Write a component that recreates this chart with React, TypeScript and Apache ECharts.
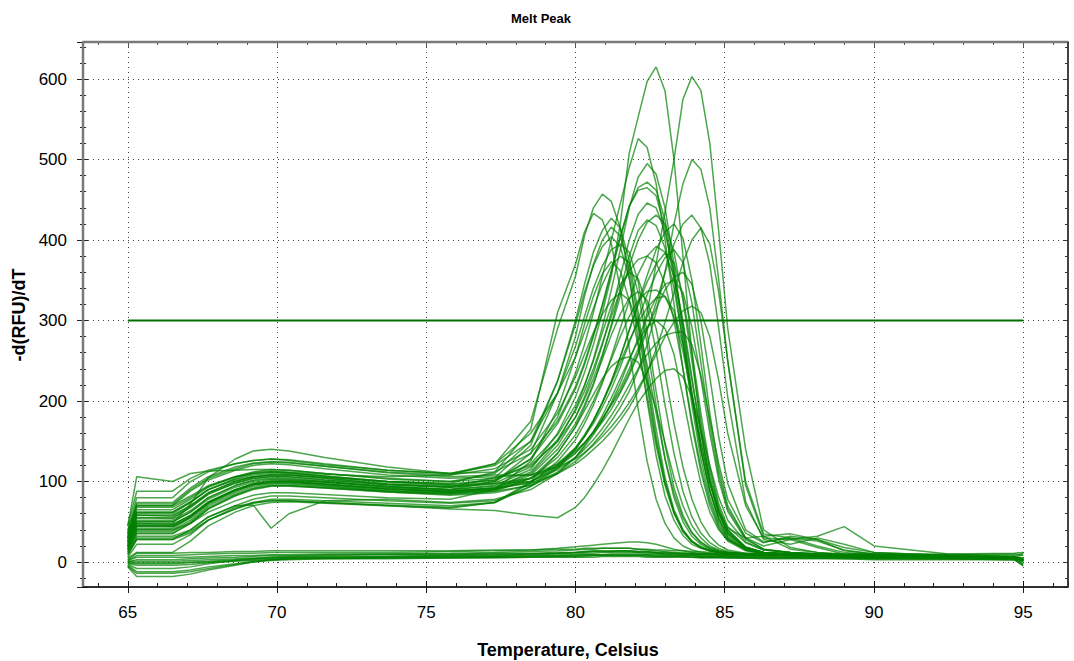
import React, { useEffect, useRef } from "react";
import * as echarts from "echarts";

// Temperature grid (°C) shared by every melt curve
const TEMPS = [65, 65.3, 66.5, 67.1, 67.7, 68.6, 69.2, 69.8, 70.4, 71.6, 73.7, 75.8, 77.3, 78.5, 79.4, 80, 80.3, 80.6, 80.9, 81.2, 81.5, 81.8, 82.1, 82.4, 82.7, 83, 83.3, 83.6, 83.9, 84.2, 84.5, 84.8, 85.1, 85.7, 86.3, 87.2, 88.1, 89, 90, 92.5, 94.7, 95];

// Melt peak curves, -d(RFU)/dT at each temperature of TEMPS
const E1 = [30, 62, 62, 75, 90, 102, 106, 108, 108, 105, 100, 98, 112, 165, 310, 370, 410, 433, 425, 395, 340, 265, 190, 125, 78, 48, 30, 20, 15, 12, 11, 10, 9, 9, 8, 8, 8, 7, 7, 6, 5, 2];
const E2 = [40, 80, 80, 100, 112, 122, 126, 128, 127, 122, 114, 110, 122, 175, 290, 355, 405, 440, 457, 448, 415, 355, 275, 200, 132, 82, 52, 33, 22, 17, 14, 12, 11, 10, 9, 9, 8, 8, 7, 6, 5, 3];
const E3 = [25, 55, 54, 68, 85, 98, 104, 106, 106, 102, 96, 93, 105, 145, 225, 300, 345, 385, 412, 427, 415, 375, 310, 235, 165, 105, 65, 40, 26, 18, 14, 12, 11, 10, 9, 8, 8, 7, 7, 6, 5, 2];
const E4 = [20, 45, 44, 55, 72, 88, 96, 100, 101, 99, 94, 90, 100, 135, 210, 280, 330, 370, 400, 416, 405, 365, 300, 225, 155, 100, 62, 38, 25, 18, 14, 12, 11, 10, 9, 9, 9, 8, 8, 7, 6, 4];
const E5 = [15, 40, 40, 48, 62, 76, 83, 86, 86, 84, 80, 78, 90, 125, 190, 255, 295, 330, 358, 373, 362, 325, 268, 205, 145, 95, 60, 38, 25, 18, 14, 12, 11, 10, 9, 9, 8, 8, 7, 6, 5, 2];
const E6 = [35, 70, 70, 82, 95, 106, 111, 113, 112, 109, 106, 108, 122, 160, 210, 255, 285, 315, 345, 368, 380, 372, 335, 270, 195, 128, 80, 50, 32, 22, 16, 13, 11, 10, 9, 9, 8, 8, 7, 7, 5, 3];
const T1 = [45, 106, 100, 110, 113, 114, 115, 115, 114, 110, 104, 100, 110, 150, 225, 295, 335, 368, 392, 404, 392, 352, 290, 218, 150, 98, 62, 40, 26, 19, 15, 12, 11, 10, 9, 9, 8, 8, 7, 6, 5, 3];
const M1 = [30, 58, 57, 70, 86, 100, 106, 108, 108, 104, 97, 94, 100, 128, 180, 235, 270, 310, 355, 400, 445, 490, 526, 515, 470, 400, 320, 240, 170, 112, 70, 42, 26, 14, 10, 9, 8, 8, 7, 6, 5, 2];
const M2 = [25, 50, 50, 62, 80, 95, 102, 104, 104, 100, 93, 90, 95, 115, 160, 205, 235, 270, 310, 355, 420, 508, 553, 597, 615, 585, 500, 380, 260, 165, 100, 60, 36, 18, 12, 9, 8, 8, 7, 6, 5, 2];
const M3 = [18, 42, 42, 55, 73, 89, 96, 99, 99, 96, 90, 87, 92, 112, 150, 190, 218, 252, 292, 338, 388, 440, 478, 495, 482, 440, 370, 290, 210, 140, 88, 52, 30, 15, 11, 9, 8, 7, 7, 6, 5, 3];
const M4 = [28, 60, 60, 74, 90, 104, 110, 112, 111, 107, 100, 96, 102, 128, 172, 215, 245, 280, 318, 360, 402, 442, 465, 472, 462, 425, 360, 285, 205, 138, 88, 54, 32, 16, 11, 9, 8, 8, 7, 6, 5, 1];
const M5 = [22, 48, 47, 58, 74, 90, 97, 100, 100, 97, 91, 88, 92, 110, 145, 180, 205, 235, 270, 310, 355, 400, 432, 446, 440, 410, 360, 295, 225, 160, 105, 65, 40, 18, 12, 9, 8, 8, 7, 6, 5, 3];
const M6 = [12, 35, 35, 48, 66, 83, 91, 95, 95, 92, 87, 84, 88, 104, 135, 168, 192, 220, 255, 295, 338, 380, 412, 425, 418, 390, 340, 275, 205, 140, 90, 55, 34, 17, 12, 10, 9, 8, 8, 7, 5, 2];
const M7 = [30, 65, 65, 78, 93, 106, 112, 115, 114, 110, 103, 100, 104, 120, 150, 180, 202, 228, 258, 292, 330, 368, 400, 422, 431, 420, 385, 325, 250, 175, 112, 68, 40, 19, 12, 9, 9, 8, 7, 6, 5, 2];
const M8 = [10, 30, 30, 38, 52, 66, 73, 76, 76, 74, 71, 68, 74, 98, 125, 152, 172, 195, 222, 255, 290, 325, 358, 380, 392, 385, 355, 300, 230, 160, 102, 62, 38, 18, 12, 10, 9, 8, 8, 7, 5, 3];
const M9 = [32, 68, 68, 80, 94, 106, 110, 112, 111, 107, 100, 97, 102, 122, 158, 195, 220, 250, 285, 318, 345, 360, 352, 318, 262, 195, 135, 88, 56, 36, 24, 17, 13, 10, 9, 8, 8, 7, 7, 6, 5, 3];
const M10 = [16, 38, 38, 50, 68, 84, 92, 95, 95, 93, 88, 85, 90, 108, 140, 172, 195, 222, 252, 282, 308, 328, 336, 325, 290, 235, 172, 118, 78, 50, 32, 21, 15, 11, 9, 8, 8, 7, 7, 6, 5, 2];
const M11 = [38, 72, 72, 90, 104, 116, 122, 124, 123, 119, 112, 108, 116, 140, 185, 230, 258, 285, 308, 325, 334, 325, 295, 245, 185, 128, 85, 55, 36, 24, 17, 13, 11, 10, 9, 8, 8, 7, 7, 6, 5, 3];
const M12 = [20, 45, 45, 57, 74, 89, 96, 98, 98, 95, 89, 86, 90, 104, 130, 158, 178, 200, 225, 252, 280, 305, 325, 336, 338, 330, 305, 262, 205, 148, 98, 60, 36, 18, 12, 10, 9, 8, 8, 7, 6, 4];
const M13 = [5, 12, 12, 26, 45, 62, 70, 74, 75, 73, 70, 67, 74, 100, 135, 168, 188, 208, 228, 243, 252, 255, 248, 225, 190, 148, 105, 70, 45, 30, 20, 15, 12, 10, 9, 8, 8, 7, 7, 6, 5, 2];
const M14 = [26, 55, 55, 68, 84, 98, 104, 106, 106, 102, 96, 93, 98, 118, 152, 188, 212, 240, 272, 305, 338, 362, 376, 380, 372, 345, 300, 240, 175, 118, 75, 45, 28, 15, 11, 9, 8, 8, 7, 6, 5, 2];
const M15 = [45, 88, 88, 104, 114, 122, 126, 128, 126, 121, 114, 110, 120, 150, 210, 268, 305, 340, 368, 388, 395, 385, 348, 285, 212, 145, 92, 58, 37, 25, 18, 14, 12, 10, 9, 9, 8, 8, 7, 7, 5, 3];
const H1 = [20, 48, 48, 72, 105, 128, 138, 140, 138, 130, 118, 110, 112, 135, 175, 218, 248, 282, 320, 362, 405, 442, 462, 465, 455, 415, 350, 272, 195, 128, 80, 48, 29, 15, 11, 9, 8, 8, 7, 6, 5, 3];
const D1 = [8, 28, 28, 40, 56, 70, 71, 42, 60, 76, 78, 74, 78, 90, 110, 130, 145, 162, 182, 204, 228, 252, 275, 292, 300, 290, 258, 205, 148, 98, 62, 40, 27, 17, 12, 10, 9, 8, 8, 7, 5, 2];
const L1 = [14, 36, 36, 48, 66, 82, 90, 94, 94, 92, 87, 83, 86, 96, 118, 140, 156, 175, 198, 225, 255, 288, 320, 348, 370, 384, 372, 330, 262, 185, 118, 72, 44, 24, 15, 12, 10, 9, 8, 7, 6, 3];
const L2 = [24, 52, 52, 64, 80, 95, 101, 103, 103, 100, 94, 90, 94, 104, 122, 142, 156, 172, 192, 215, 242, 272, 302, 332, 358, 378, 388, 372, 322, 248, 170, 108, 66, 30, 20, 28, 18, 10, 9, 7, 6, 4];
const L3 = [12, 32, 32, 40, 56, 70, 78, 82, 82, 80, 76, 73, 76, 94, 112, 130, 143, 158, 176, 198, 222, 250, 278, 305, 328, 345, 350, 335, 292, 228, 160, 102, 63, 28, 16, 12, 10, 9, 8, 7, 6, 2];
const L4 = [20, 46, 46, 58, 75, 90, 97, 100, 100, 97, 91, 88, 92, 100, 115, 130, 140, 152, 166, 182, 200, 220, 240, 258, 272, 282, 285, 286, 270, 232, 178, 122, 78, 36, 24, 32, 28, 14, 10, 7, 6, 4];
const L5 = [6, 22, 22, 34, 52, 68, 74, 76, 76, 74, 70, 66, 64, 58, 55, 68, 80, 96, 114, 134, 156, 178, 198, 214, 228, 238, 240, 230, 205, 165, 120, 80, 52, 25, 15, 12, 10, 9, 8, 7, 5, 3];
const L6 = [28, 58, 58, 70, 86, 100, 106, 108, 108, 104, 97, 93, 97, 100, 118, 135, 148, 162, 178, 195, 212, 235, 260, 310, 370, 435, 500, 575, 603, 586, 520, 410, 290, 140, 40, 18, 12, 9, 8, 6, 5, 2];
const L7 = [16, 40, 40, 52, 70, 86, 94, 97, 97, 94, 88, 85, 88, 95, 110, 125, 135, 147, 160, 175, 192, 212, 238, 270, 310, 360, 420, 470, 500, 488, 440, 350, 250, 95, 32, 16, 12, 10, 9, 7, 6, 3];
const L8 = [34, 70, 70, 88, 102, 114, 120, 122, 121, 116, 108, 104, 106, 108, 122, 138, 148, 160, 174, 190, 210, 232, 258, 288, 322, 360, 395, 420, 431, 415, 370, 290, 205, 75, 28, 22, 30, 22, 12, 8, 6, 3];
const L9 = [22, 50, 50, 62, 78, 93, 99, 102, 102, 99, 93, 89, 92, 98, 110, 122, 130, 140, 150, 162, 176, 192, 212, 236, 264, 298, 335, 372, 400, 415, 395, 335, 250, 100, 35, 30, 26, 15, 10, 7, 6, 2];
const L10 = [30, 62, 62, 74, 90, 103, 108, 110, 110, 106, 99, 95, 98, 104, 120, 136, 148, 162, 178, 196, 216, 240, 265, 290, 315, 338, 354, 360, 345, 300, 230, 155, 98, 40, 25, 30, 20, 12, 9, 7, 6, 3];
const L11 = [18, 44, 44, 56, 74, 90, 97, 100, 100, 97, 91, 87, 90, 100, 120, 142, 158, 176, 198, 224, 254, 288, 322, 356, 388, 410, 420, 402, 350, 270, 185, 115, 70, 30, 16, 12, 10, 9, 8, 7, 5, 2];
const L12 = [10, 28, 28, 36, 52, 66, 74, 78, 78, 76, 73, 70, 74, 94, 116, 140, 156, 176, 198, 222, 248, 275, 298, 316, 328, 330, 312, 270, 210, 148, 98, 62, 42, 30, 32, 35, 28, 18, 12, 8, 6, 3];
const L13 = [36, 74, 74, 92, 106, 118, 123, 125, 124, 119, 111, 106, 108, 108, 118, 128, 136, 145, 156, 168, 182, 198, 216, 236, 258, 280, 298, 312, 318, 310, 280, 225, 160, 70, 30, 28, 32, 44, 20, 10, 7, 3];

// No-template / baseline wells
const B1 = [2, 8, 8, 9, 10, 11, 11, 12, 12, 12, 12, 13, 14, 15, 17, 19, 20, 21, 22, 23, 24, 25, 25, 24, 22, 19, 16, 14, 12, 11, 10, 10, 10, 9, 9, 9, 9, 8, 8, 8, 8, 11];
const B2 = [-3, -8, -8, -6, -2, 2, 4, 6, 7, 8, 9, 9, 10, 10, 11, 12, 12, 13, 13, 13, 13, 13, 12, 12, 11, 10, 10, 9, 9, 8, 8, 8, 7, 7, 7, 6, 6, 6, 5, 5, 4, -4];
const B3 = [-6, -18, -18, -15, -10, -4, 0, 3, 4, 5, 6, 7, 7, 8, 8, 9, 9, 9, 9, 10, 10, 10, 10, 9, 9, 9, 8, 8, 8, 7, 7, 7, 7, 6, 6, 6, 5, 5, 5, 4, 3, -2];
const B4 = [0, 3, 3, 4, 5, 6, 7, 8, 8, 9, 10, 11, 12, 13, 14, 15, 16, 16, 17, 17, 17, 17, 16, 15, 14, 13, 12, 11, 11, 10, 10, 9, 9, 9, 8, 8, 8, 8, 7, 7, 6, 9];
const B5 = [-2, -4, -4, -3, -1, 1, 2, 3, 4, 4, 5, 5, 6, 6, 7, 7, 8, 8, 8, 8, 8, 8, 8, 8, 7, 7, 7, 7, 6, 6, 6, 6, 6, 5, 5, 5, 5, 5, 4, 4, 4, 0];
const B6 = [3, 11, 11, 12, 12, 13, 13, 14, 14, 14, 14, 14, 15, 15, 16, 16, 17, 17, 17, 17, 17, 17, 16, 16, 15, 15, 14, 14, 13, 13, 12, 12, 12, 11, 11, 11, 10, 10, 10, 10, 11, 12];
const B7 = [-4, -12, -12, -10, -6, -2, 1, 3, 4, 5, 5, 6, 6, 7, 7, 7, 7, 8, 8, 8, 8, 8, 8, 7, 7, 7, 7, 7, 6, 6, 6, 6, 5, 5, 5, 5, 5, 4, 4, 4, 3, -5];
const B8 = [1, 1, 1, 2, 3, 4, 5, 6, 6, 7, 7, 8, 8, 9, 10, 10, 11, 11, 12, 12, 12, 12, 12, 11, 11, 10, 10, 10, 9, 9, 9, 9, 8, 8, 8, 8, 7, 7, 7, 6, 6, 5];
const B9 = [-1, -1, -1, 0, 1, 3, 4, 5, 6, 6, 7, 8, 9, 10, 11, 12, 13, 14, 14, 14, 14, 14, 13, 13, 12, 12, 11, 11, 10, 10, 10, 9, 9, 9, 8, 8, 8, 7, 7, 7, 6, 3];
const B10 = [-5, -14, -14, -12, -8, -3, 0, 2, 3, 4, 4, 5, 5, 6, 6, 6, 6, 6, 7, 7, 7, 7, 7, 6, 6, 6, 6, 6, 6, 5, 5, 5, 5, 5, 4, 4, 4, 4, 3, 3, 3, -3];
const B11 = [2, 6, 6, 6, 7, 8, 8, 9, 9, 10, 10, 10, 11, 11, 12, 12, 13, 13, 13, 13, 14, 14, 13, 13, 12, 12, 11, 11, 11, 10, 10, 10, 10, 9, 9, 9, 9, 9, 9, 9, 10, 8];
const B12 = [-1, -2, -2, -1, 0, 2, 3, 4, 5, 5, 6, 6, 7, 7, 8, 8, 9, 9, 9, 9, 9, 9, 9, 9, 8, 8, 8, 8, 8, 7, 7, 7, 7, 7, 6, 6, 6, 6, 6, 5, 5, 1];

const PEAK_CURVES = [E1, E2, E3, E4, E5, E6, T1, M1, M2, M3, M4, M5, M6, M7, M8, M9, M10, M11, M12, M13, M14, M15, H1, D1, L1, L2, L3, L4, L5, L6, L7, L8, L9, L10, L11, L12, L13];
const BASE_CURVES = [B1, B2, B3, B4, B5, B6, B7, B8, B9, B10, B11, B12];

const THRESHOLD = 300;
const THRESHOLD_RANGE = [65, 95];

const X_MIN = 63.5;
const X_MAX = 96.5;
const Y_MIN = -31;
const Y_MAX = 646;

const TITLE = "Melt Peak";
const X_NAME = "Temperature, Celsius";
const Y_NAME = "-d(RFU)/dT";

const FONT = '"Liberation Sans", Arial, sans-serif';

// plot frame (pixels)
const PLOT = { left: 83, top: 42, right: 1068, bottom: 587 };

export default function App() {
  const ref = useRef<HTMLDivElement>(null);

  useEffect(() => {
    if (!ref.current) return;
    const chart = echarts.init(ref.current, null, { renderer: "svg" });

    const curveSeries = (vals: number[]) => ({
      type: "line",
      xAxisIndex: 0,
      yAxisIndex: 0,
      data: TEMPS.map((t, i) => [t, vals[i]]),
      showSymbol: false,
      symbol: "none",
      silent: true,
      z: 2,
      lineStyle: { color: "#008000", width: 1.5, opacity: 0.7 },
    });

    const xCommon = { type: "value", min: X_MIN, max: X_MAX, minInterval: 5, maxInterval: 5 };
    const yCommon = { type: "value", min: Y_MIN, max: Y_MAX, minInterval: 100, maxInterval: 100 };
    const dotted = { color: "#444", type: [1, 4], width: 1 };
    const gridBox = { left: PLOT.left, right: 1074 - PLOT.right, top: PLOT.top, bottom: 661 - PLOT.bottom };

    const frameLine = (x1: number, y1: number, x2: number, y2: number, stroke: string, lineWidth: number) => ({
      type: "line",
      z: 1000,
      silent: true,
      shape: { x1, y1, x2, y2 },
      style: { stroke, lineWidth },
    });

    chart.setOption({
      animation: false,
      backgroundColor: "#fff",
      grid: [
        { ...gridBox, show: true, borderColor: "#7a7a7a", borderWidth: 2, backgroundColor: "transparent" },
        { ...gridBox, show: false },
      ],
      xAxis: [
        {
          ...xCommon,
          gridIndex: 0,
          position: "bottom",
          axisLine: { show: false, onZero: false },
          axisTick: { show: true, inside: false, length: 6, lineStyle: { color: "#1a1a1a" } },
          minorTick: { show: false },
          axisLabel: { showMinLabel: false, showMaxLabel: false, color: "#000", fontSize: 17, fontFamily: FONT, margin: 17 },
          splitLine: { show: true, showMinLine: false, showMaxLine: false, lineStyle: dotted },
        },
        {
          ...xCommon,
          gridIndex: 0,
          position: "top",
          axisLine: { show: false, onZero: false },
          axisTick: { show: true, inside: true, length: 5, lineStyle: { color: "#555" } },
          minorTick: { show: true, splitNumber: 5, length: 3, lineStyle: { color: "#555" } },
          axisLabel: { show: false },
          splitLine: { show: false },
        },
        {
          ...xCommon,
          gridIndex: 1,
          position: "bottom",
          axisLine: { show: false, onZero: false },
          axisTick: { show: true, inside: true, length: 6, lineStyle: { color: "#1a1a1a" } },
          minorTick: { show: true, splitNumber: 5, length: 4, lineStyle: { color: "#1a1a1a" } },
          axisLabel: { show: false },
          splitLine: { show: false },
        },
      ],
      yAxis: [
        {
          ...yCommon,
          gridIndex: 0,
          position: "left",
          axisLine: { show: false, onZero: false },
          axisTick: { show: true, inside: false, length: 6, lineStyle: { color: "#222" } },
          minorTick: { show: true, splitNumber: 5, length: 3, lineStyle: { color: "#222" } },
          axisLabel: { showMinLabel: false, showMaxLabel: false, color: "#000", fontSize: 17, fontFamily: FONT, margin: 16 },
          splitLine: { show: true, showMinLine: false, showMaxLine: false, lineStyle: dotted },
        },
        {
          ...yCommon,
          gridIndex: 0,
          position: "right",
          axisLine: { show: false, onZero: false },
          axisTick: { show: true, inside: true, length: 5, lineStyle: { color: "#333" } },
          minorTick: { show: true, splitNumber: 5, length: 3, lineStyle: { color: "#333" } },
          axisLabel: { show: false },
          splitLine: { show: false },
        },
        {
          ...yCommon,
          gridIndex: 1,
          position: "left",
          axisLine: { show: false, onZero: false },
          axisTick: { show: true, inside: true, length: 5, lineStyle: { color: "#222" } },
          minorTick: { show: true, splitNumber: 5, length: 3, lineStyle: { color: "#222" } },
          axisLabel: { show: false },
          splitLine: { show: false },
        },
      ],
      graphic: [
        frameLine(PLOT.left, PLOT.top, PLOT.right, PLOT.top, "#7a7a7a", 2.5),
        frameLine(PLOT.left, PLOT.top, PLOT.left, PLOT.bottom, "#7a7a7a", 2.5),
        frameLine(PLOT.left, PLOT.bottom, PLOT.right, PLOT.bottom, "#1a1a1a", 1.5),
        frameLine(PLOT.right, PLOT.top, PLOT.right, PLOT.bottom, "#333", 1.5),
        {
          type: "text",
          x: 541,
          y: 18,
          style: { text: TITLE, font: `bold 13px ${FONT}`, fill: "#000", align: "center", verticalAlign: "middle", textAlign: "center", textVerticalAlign: "middle" },
        },
        {
          type: "text",
          x: 568,
          y: 650,
          style: { text: X_NAME, font: `bold 18px ${FONT}`, fill: "#000", align: "center", verticalAlign: "middle", textAlign: "center", textVerticalAlign: "middle" },
        },
        {
          type: "text",
          x: 19,
          y: 315,
          rotation: Math.PI / 2,
          style: { text: Y_NAME, font: `bold 18px ${FONT}`, fill: "#000", align: "center", verticalAlign: "middle", textAlign: "center", textVerticalAlign: "middle" },
        },
      ],
      series: [
        ...BASE_CURVES.map(curveSeries),
        ...PEAK_CURVES.map(curveSeries),
        {
          type: "line",
          xAxisIndex: 0,
          yAxisIndex: 0,
          data: THRESHOLD_RANGE.map((t) => [t, THRESHOLD]),
          showSymbol: false,
          symbol: "none",
          silent: true,
          z: 3,
          lineStyle: { color: "#007000", width: 2 },
        },
      ],
    });

    return () => chart.dispose();
  }, []);

  return <div ref={ref} style={{ position: "fixed", left: 0, top: 0, width: 1074, height: 661 }} />;
}
